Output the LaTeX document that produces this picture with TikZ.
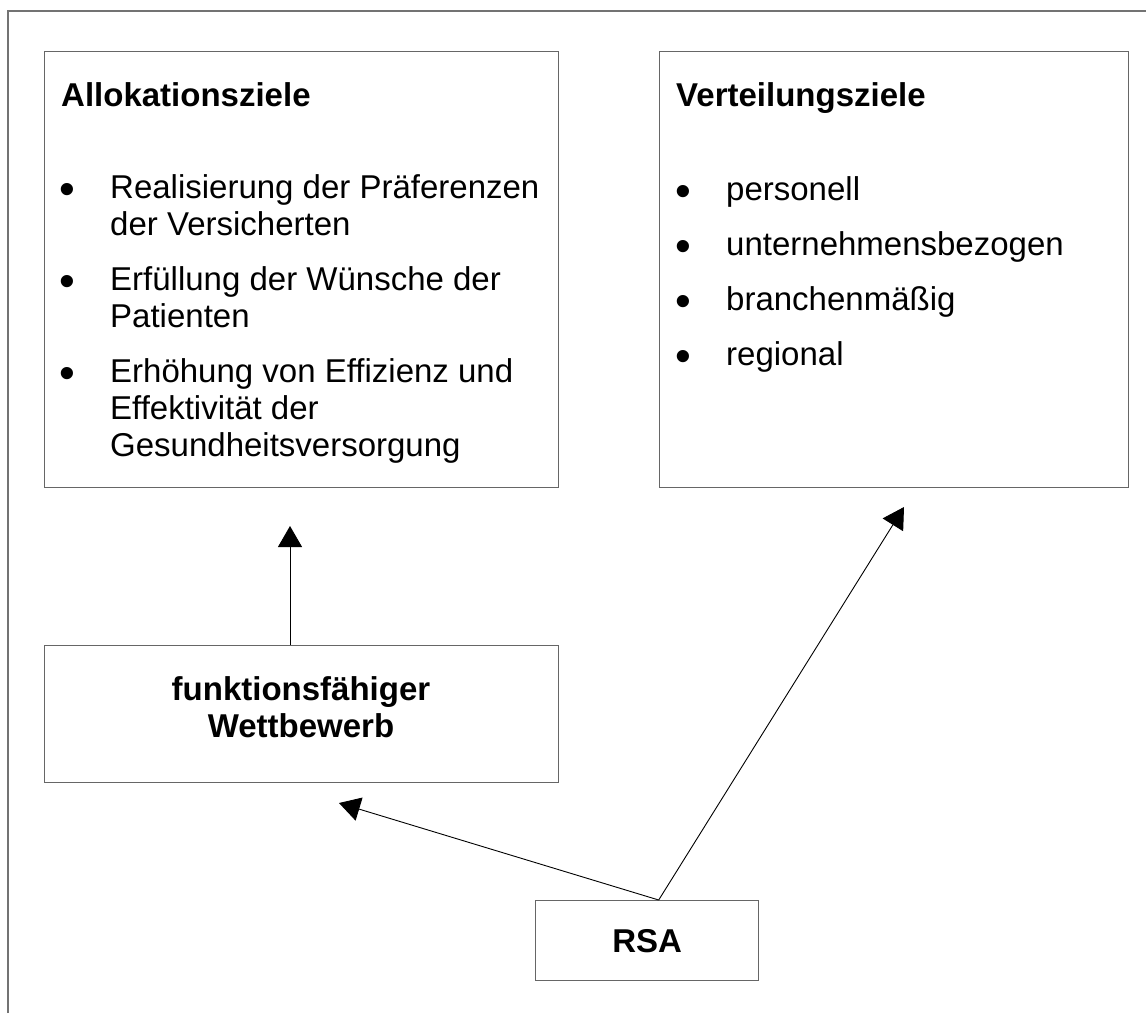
\documentclass[tikz,border=0pt]{standalone}
\usepackage{fontspec}
\setmainfont{Liberation Sans}
\usetikzlibrary{positioning, arrows.meta}

\begin{document}
\begin{tikzpicture}[x=1pt, y=-1pt, every node/.style={font=\fontsize{33}{37}\selectfont},
  box/.style={draw=black!60, line width=1.4pt, rectangle, anchor=north west, inner sep=0pt},
  txt/.style={anchor=base west, inner sep=0pt, align=left},
  punkt/.style={anchor=base west, inner sep=0pt, font=\fontsize{45}{37}\selectfont},
  mitte/.style={anchor=base, inner sep=0pt, align=center},
  pfeil/.style={-{Triangle[length=21pt, width=24pt]}, line width=0.9pt}]
  \useasboundingbox (0,0) rectangle (1146,1013);

  % Frame
  \draw[black!55, line width=1.4pt] (8,1013) -- (8,11) -- (1146,11);

  % Boxes
  \node[box, minimum width=514pt, minimum height=436pt] (allok) at (44,51) {};
  \node[box, minimum width=469pt, minimum height=436pt] (verteil) at (659,51) {};
  \node[box, minimum width=514pt, minimum height=137pt] (wettbewerb) at (44,645) {};
  \node[box, minimum width=223pt, minimum height=80pt] (rsa) at (535,900) {\textbf{RSA}};

  % Allokationsziele (multi-line nodes sit on their last line)
  \node[txt] (allokkopf) at (61,106) {\textbf{Allokationsziele}};
  \node[punkt] (allokp1) at (59,204) {\textbullet};
  \node[txt] (allok1) at (110,235) {Realisierung der Präferenzen\\der Versicherten};
  \node[punkt] (allokp2) at (59,296) {\textbullet};
  \node[txt] (allok2) at (110,327) {Erfüllung der Wünsche der\\Patienten};
  \node[punkt] (allokp3) at (59,388) {\textbullet};
  \node[txt] (allok3) at (110,456) {Erhöhung von Effizienz und\\Effektivität der\\Gesundheitsversorgung};

  % Verteilungsziele
  \node[txt] (verteilkopf) at (676,106) {\textbf{Verteilungsziele}};
  \node[punkt] (verteilp1) at (675,206) {\textbullet};
  \node[txt] (verteil1) at (726,200) {personell};
  \node[punkt] (verteilp2) at (675,261) {\textbullet};
  \node[txt] (verteil2) at (726,255) {unternehmensbezogen};
  \node[punkt] (verteilp3) at (675,316) {\textbullet};
  \node[txt] (verteil3) at (726,310) {branchenmäßig};
  \node[punkt] (verteilp4) at (675,371) {\textbullet};
  \node[txt] (verteil4) at (726,365) {regional};

  % Wettbewerb
  \node[mitte] (wettbewerbtext) at (301,737) {\textbf{funktionsfähiger}\\\textbf{Wettbewerb}};

  % Arrows
  \coordinate (spitzeA) at (290,526);
  \coordinate (spitzeV) at (904,507);
  \coordinate (spitzeW) at (339,803);
  \draw[pfeil] (wettbewerb.north -| spitzeA) -- (spitzeA);
  \draw[pfeil] ([xshift=11.5pt]rsa.north) -- (spitzeV);
  \draw[pfeil] ([xshift=11.5pt]rsa.north) -- (spitzeW);
\end{tikzpicture}
\end{document}
